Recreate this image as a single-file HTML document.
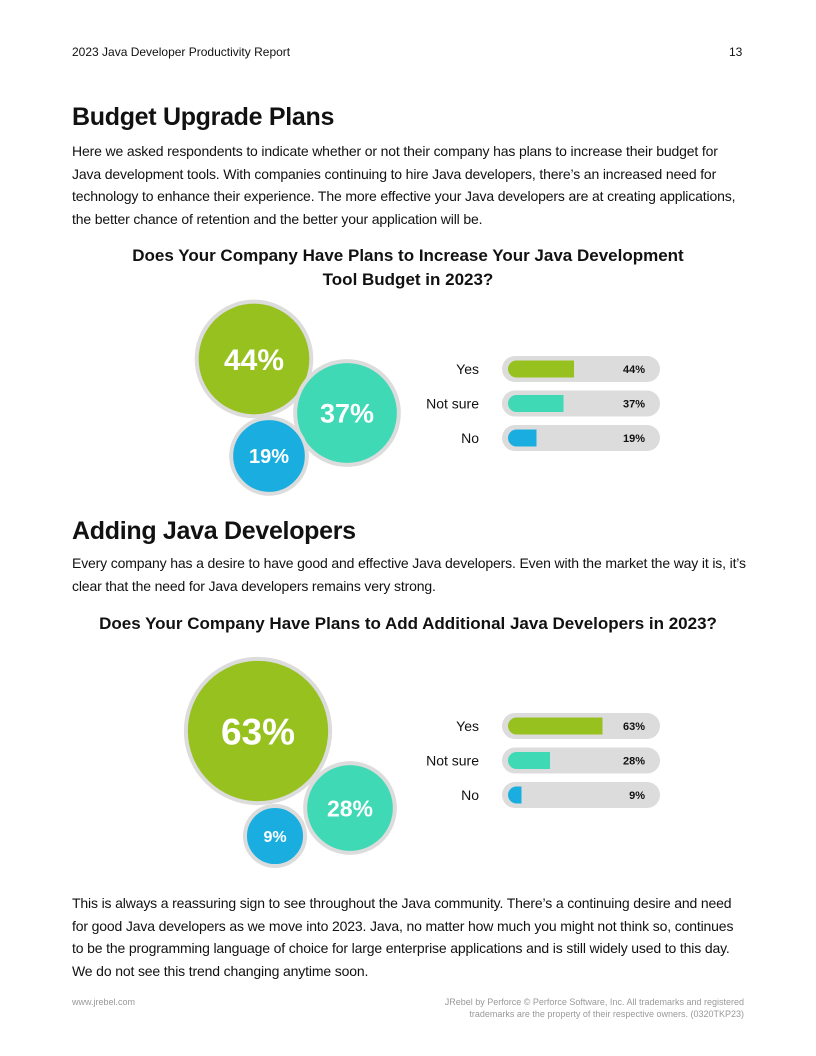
<!DOCTYPE html>
<html><head><meta charset="utf-8"><style>
body{margin:0;width:816px;height:1056px;background:#fff;font-family:"Liberation Sans",sans-serif;color:#111;position:relative;overflow:hidden}
.a{position:absolute}
.h1{font-size:25px;font-weight:bold;letter-spacing:-0.3px}
.p{font-size:14px;line-height:22.5px;left:72px;width:700px;letter-spacing:-0.15px;white-space:nowrap}
.ct{font-size:17px;font-weight:bold;text-align:center;line-height:24px}
.ft{font-size:9px;color:#999;line-height:12px}
</style></head><body>
<div class="a" style="left:72px;top:45px;font-size:12px">2023 Java Developer Productivity Report</div>
<div class="a" style="left:729px;top:45px;font-size:12px">13</div>
<div class="a h1" style="left:72px;top:103px">Budget Upgrade Plans</div>
<div class="a p" style="top:140px">Here we asked respondents to indicate whether or not their company has plans to increase their budget for<br>Java development tools. With companies continuing to hire Java developers, there’s an increased need for<br>technology to enhance their experience. The more effective your Java developers are at creating applications,<br>the better chance of retention and the better your application will be.</div>
<div class="a ct" style="left:58px;width:700px;top:244px">Does Your Company Have Plans to Increase Your Java Development<br>Tool Budget in 2023?</div>
<svg class="a" style="left:0;top:0" width="816" height="1056" id="svg"></svg>
<div class="a h1" style="left:72px;top:517px">Adding Java Developers</div>
<div class="a p" style="top:552px">Every company has a desire to have good and effective Java developers. Even with the market the way it is, it’s<br>clear that the need for Java developers remains very strong.</div>
<div class="a ct" style="left:8px;width:800px;top:612px">Does Your Company Have Plans to Add Additional Java Developers in 2023?</div>
<div class="a p" style="top:892px">This is always a reassuring sign to see throughout the Java community. There’s a continuing desire and need<br>for good Java developers as we move into 2023. Java, no matter how much you might not think so, continues<br>to be the programming language of choice for large enterprise applications and is still widely used to this day.<br>We do not see this trend changing anytime soon.</div>
<div class="a ft" style="left:72px;top:996px">www.jrebel.com</div>
<div class="a ft" style="left:400px;width:344px;top:996px;text-align:right">JRebel by Perforce © Perforce Software, Inc. All trademarks and registered<br>trademarks are the property of their respective owners. (0320TKP23)</div>
<script>
const categories=["Yes","Not sure","No"];
const budgetValues=[44,37,19];
const hireValues=[63,28,9];
const colors=["#97c11f","#3fd9b6","#1aaee0"];
const NS="http://www.w3.org/2000/svg";
const svg=document.getElementById('svg');
function mk(t,a){const e=document.createElementNS(NS,t);for(const k in a)e.setAttribute(k,a[k]);svg.appendChild(e);return e;}
function rScale(v){return 25+0.78*v;}
function xScale(v){return v*1.5;}
function chart(vals,centers,barTop,id){
  vals.forEach((v,i)=>{
    const [cx,cy]=centers[i];const r=rScale(v);
    const c=mk('circle',{cx:cx,cy:cy,r:r-2,fill:colors[i],stroke:'#dcdcdc','stroke-width':4});
    
    
    const fs=Math.round(r*0.5);
    const t=mk('text',{x:cx,y:cy+fs*0.36,'text-anchor':'middle','font-size':fs,'font-weight':'bold',fill:'#fff','font-family':'Liberation Sans, sans-serif'});
    t.textContent=v+'%';
    
    
  });
  vals.forEach((v,i)=>{
    const y=barTop+i*34.5;
    const tr=mk('rect',{x:502,y:y-13,width:158,height:26,rx:13,fill:'#dcdcdc'});
    
    
    const b=mk('path',{d:`M${508+8.5},${y-8.5} H${508+xScale(v)} V${y+8.5} H${508+8.5} A8.5,8.5 0 0 1 ${508+8.5},${y-8.5}Z`,fill:colors[i]});
    
    
    const l=mk('text',{x:479,y:y+5,'text-anchor':'end','font-size':14,fill:'#111','font-family':'Liberation Sans, sans-serif'});
    l.textContent=categories[i];
    
    
    const p=mk('text',{x:645,y:y+4,'text-anchor':'end','font-size':11,'font-weight':'bold',fill:'#111','font-family':'Liberation Sans, sans-serif'});
    p.textContent=v+'%';
    
    
  });
}
chart(budgetValues,[[254,359],[347,413],[269,456]],369,'budget');
chart(hireValues,[[258,731],[350,808],[275,836]],726,'hire');
</script>
</body></html>
